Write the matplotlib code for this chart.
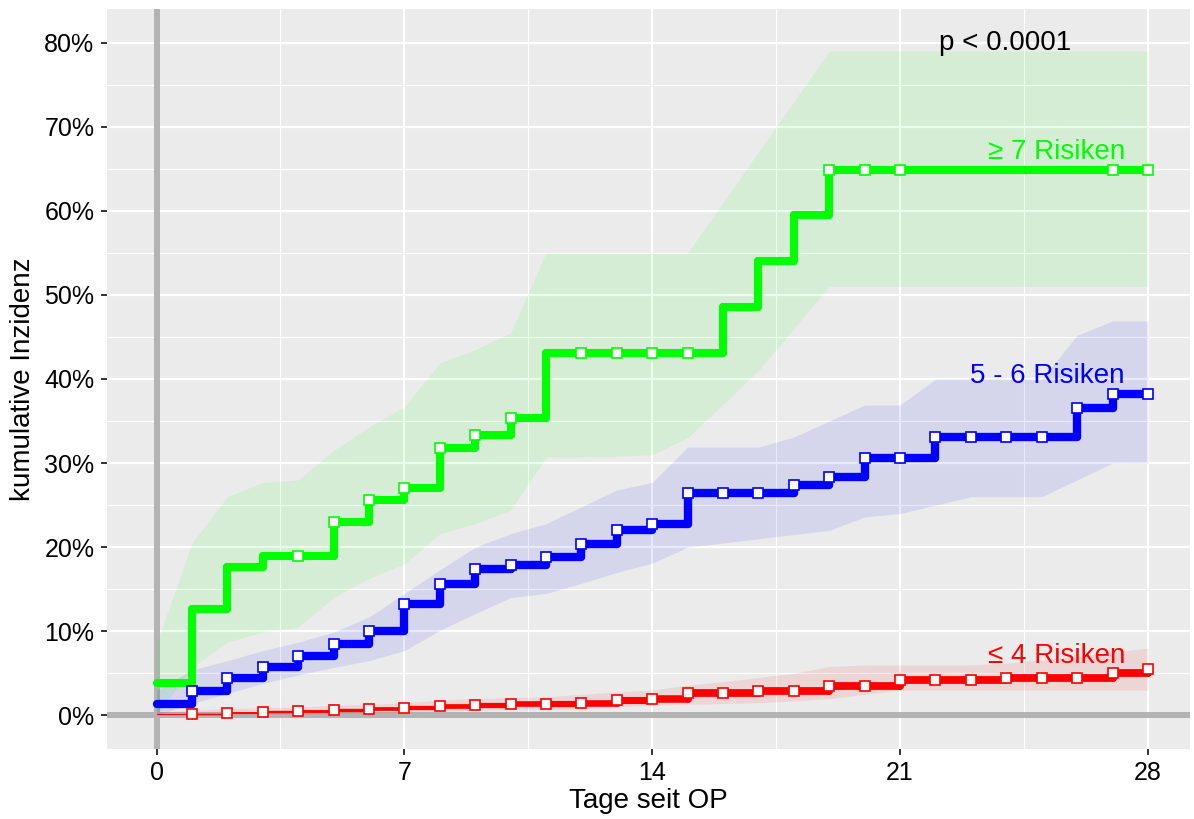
import numpy as np
import matplotlib
matplotlib.use("Agg")
import matplotlib.pyplot as plt
from matplotlib.collections import LineCollection
from matplotlib.ticker import FuncFormatter, MultipleLocator

plt.rcParams['font.family'] = ['Liberation Sans', 'DejaVu Sans']

# Tage 0..28
days = np.arange(0, 29)

# kumulative Inzidenz je Tag (Stufenwerte)
green_est = [0.038, 0.127, 0.176, 0.189, 0.189, 0.230, 0.256, 0.270, 0.318, 0.333,
             0.354, 0.431, 0.431, 0.431, 0.431, 0.431, 0.486, 0.540, 0.595, 0.649,
             0.649, 0.649, 0.649, 0.649, 0.649, 0.649, 0.649, 0.649, 0.649]
blue_est = [0.014, 0.029, 0.044, 0.058, 0.071, 0.085, 0.100, 0.133, 0.156, 0.174,
            0.179, 0.188, 0.204, 0.221, 0.228, 0.264, 0.264, 0.264, 0.274, 0.284,
            0.306, 0.306, 0.331, 0.331, 0.331, 0.331, 0.365, 0.382, 0.382]
red_est = [0.001, 0.002, 0.003, 0.004, 0.005, 0.006, 0.007, 0.009, 0.011, 0.012,
           0.013, 0.013, 0.015, 0.018, 0.020, 0.026, 0.027, 0.029, 0.029, 0.035,
           0.035, 0.042, 0.042, 0.042, 0.045, 0.045, 0.045, 0.050, 0.055]

# Konfidenzbaender
green_lo = [0.000, 0.057, 0.087, 0.099, 0.105, 0.140, 0.163, 0.180, 0.216, 0.228,
            0.244, 0.307, 0.307, 0.308, 0.310, 0.330, 0.370, 0.410, 0.460, 0.510,
            0.510, 0.510, 0.510, 0.510, 0.510, 0.510, 0.510, 0.510, 0.510]
green_hi = [0.085, 0.205, 0.260, 0.277, 0.280, 0.315, 0.343, 0.367, 0.419, 0.435,
            0.455, 0.550, 0.550, 0.550, 0.550, 0.550, 0.610, 0.670, 0.730, 0.790,
            0.790, 0.790, 0.790, 0.790, 0.790, 0.790, 0.790, 0.790, 0.790]
blue_lo = [0.000, 0.014, 0.026, 0.038, 0.048, 0.057, 0.065, 0.077, 0.101, 0.121,
           0.140, 0.145, 0.157, 0.170, 0.181, 0.200, 0.205, 0.210, 0.215, 0.220,
           0.236, 0.240, 0.250, 0.260, 0.260, 0.260, 0.280, 0.300, 0.300]
blue_hi = [0.030, 0.054, 0.065, 0.077, 0.087, 0.099, 0.117, 0.145, 0.173, 0.200,
           0.216, 0.228, 0.248, 0.268, 0.277, 0.319, 0.319, 0.319, 0.331, 0.350,
           0.369, 0.369, 0.400, 0.400, 0.400, 0.400, 0.452, 0.469, 0.469]
red_lo = [0.000, 0.000, 0.000, 0.001, 0.001, 0.002, 0.003, 0.004, 0.005, 0.006,
          0.007, 0.007, 0.008, 0.010, 0.012, 0.013, 0.014, 0.015, 0.017, 0.020,
          0.025, 0.030, 0.030, 0.030, 0.030, 0.030, 0.030, 0.030, 0.030]
red_hi = [0.004, 0.006, 0.008, 0.009, 0.010, 0.012, 0.013, 0.015, 0.018, 0.020,
          0.021, 0.022, 0.025, 0.028, 0.030, 0.036, 0.040, 0.045, 0.050, 0.058,
          0.060, 0.060, 0.060, 0.060, 0.062, 0.066, 0.070, 0.075, 0.080]

# Zensierungsmarken
green_marks = [4, 5, 6, 7, 8, 9, 10, 12, 13, 14, 15, 19, 20, 21, 27, 28]
blue_marks = list(range(1, 29))
red_marks = list(range(1, 29))

labels = ["≥ 7 Risiken", "5 - 6 Risiken", "≤ 4 Risiken"]
colors = ["#00ff00", "#0000ff", "#ff0000"]
label_pos = [(27.35, 0.670), (27.35, 0.404), (27.35, 0.071)]

fig = plt.figure(figsize=(11.94, 8.19), dpi=100)
ax = fig.add_axes([0.0896, 0.0855, 0.9074, 0.9035])
ax.set_facecolor("#ebebeb")
for s in ax.spines.values():
    s.set_visible(False)

ax.set_xlim(-1.4, 29.2)
ax.set_ylim(-0.04, 0.84)
ax.xaxis.set_major_locator(MultipleLocator(7))
ax.xaxis.set_minor_locator(MultipleLocator(3.5))
ax.yaxis.set_major_locator(MultipleLocator(0.1))
ax.yaxis.set_minor_locator(MultipleLocator(0.05))
ax.yaxis.set_major_formatter(FuncFormatter(lambda v, p: f"{v*100:.0f}%"))
ax.grid(which="major", color="white", lw=1.6, zorder=0)
ax.grid(which="minor", color="white", lw=0.8, zorder=0)
ax.set_axisbelow(True)
ax.tick_params(which="major", length=4, width=1.4, color="#333333",
               labelsize=18, labelcolor="black", pad=5)
ax.tick_params(which="minor", length=0)

ax.axvline(0, color="#b3b3b3", lw=4.3, zorder=1)
ax.axhline(0, color="#b3b3b3", lw=4.3, zorder=1)

def step_segments(y):
    segs = []
    for i in range(len(y) - 1):
        segs.append([(days[i], y[i]), (days[i + 1], y[i])])
        segs.append([(days[i + 1], y[i]), (days[i + 1], y[i + 1])])
    return segs

series = [(green_est, green_lo, green_hi, green_marks),
          (blue_est, blue_lo, blue_hi, blue_marks),
          (red_est, red_lo, red_hi, red_marks)]

for k, (est, lo, hi, marks) in enumerate(series):
    c = colors[k]
    ax.fill_between(days, lo, hi, color=c, alpha=0.09, lw=0, zorder=2)
    segs = step_segments(est)
    if k == 2:
        w = np.clip(np.linspace(0.7, 10.0, len(segs)), 0.7, 5.6)
    elif k == 1:
        w = np.full(len(segs), 6.0)
    else:
        w = np.full(len(segs), 5.8)
    lc = LineCollection(segs, colors=c, linewidths=w, capstyle="round", zorder=3)
    ax.add_collection(lc)
    my = [est[m] for m in marks]
    ax.plot(marks, my, ls="none", marker="s", ms=7, mfc="white", mec=c, mew=1.2, zorder=4)
    ax.text(label_pos[k][0], label_pos[k][1], labels[k], color=c, fontsize=20,
            ha="right", va="center", zorder=5)

ax.text(23.96, 0.80, "p < 0.0001", color="black", fontsize=20, ha="center", va="center")

ax.set_xlabel("Tage seit OP", fontsize=20, labelpad=2)
ax.set_ylabel("kumulative Inzidenz", fontsize=20, labelpad=6)

fig.savefig("out.png", dpi=100)
